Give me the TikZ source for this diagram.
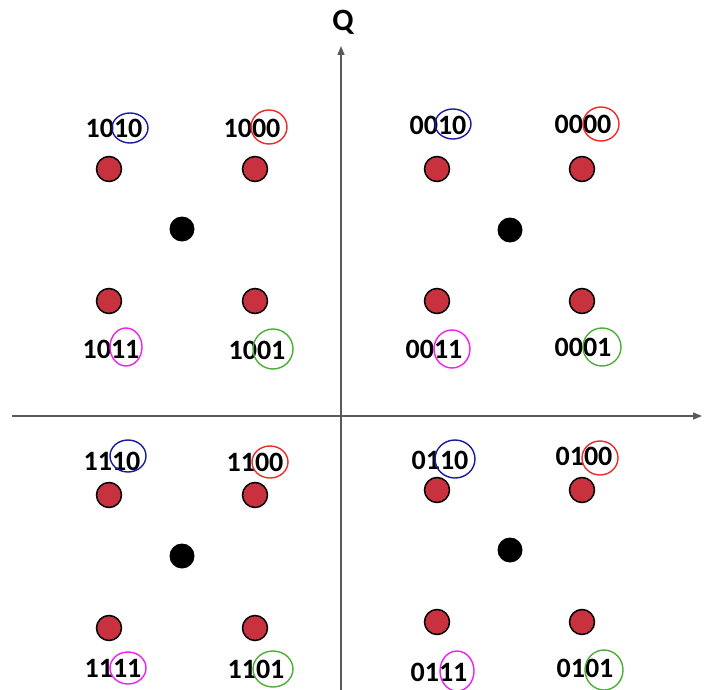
\documentclass[tikz,border=0pt]{standalone}
\usepackage{fontspec}
\setmainfont{Carlito}
\usetikzlibrary{arrows.meta}
\definecolor{dotred}{HTML}{C8313E}
\definecolor{axisgray}{HTML}{5A5A5A}
\definecolor{cblue}{HTML}{1A1AA0}
\definecolor{cred}{HTML}{EE2B2B}
\definecolor{cmag}{HTML}{F020F0}
\definecolor{cgreen}{HTML}{4CAF35}
\tikzset{
  axis/.style={draw=axisgray, line width=1.4pt, -{Triangle[length=9pt,width=7pt]}},
  rdot/.style={circle, draw=black, line width=1.5pt, fill=dotred, minimum size=25pt, inner sep=0pt},
  bdot/.style={circle, fill=black, minimum size=25pt, inner sep=0pt},
  lbl/.style={font=\bfseries\fontsize{28}{30}\selectfont, inner sep=0pt},
  ring/.style={line width=1.4pt},
}
\begin{document}
\begin{tikzpicture}[x=1pt,y=-1pt]
\useasboundingbox[fill=white] (0,0) rectangle (712,690);
% axes
\coordinate (xs) at (12,416);
\coordinate (xe) at (702,416);
\coordinate (ys) at (341,690);
\coordinate (ye) at (341,46);
\draw[axis] (xs) -- (xe);
\draw[axis] (ys) -- (ye);
\node[font=\bfseries\fontsize{31}{32}\selectfont, inner sep=0pt] (Q) at (343,22) {Q};
% red dots
\foreach \n/\x/\y in {a1/109/169, a2/255/169, a3/109/301, a4/255/301,
                      b1/437/169, b2/582/169, b3/437/301, b4/582/301,
                      c1/109/495, c2/255/495, c3/109/628, c4/255/628,
                      d1/437/490, d2/582/490, d3/437/622, d4/582/622}
  \node[rdot] (\n) at (\x,\y) {};
% black dots
\node[bdot] (ka) at (182,229) {};
\node[bdot] (kb) at (510,230) {};
\node[bdot] (kc) at (182,556) {};
\node[bdot] (kd) at (510,550) {};
% labels
\foreach \n/\x/\y/\t in {l1/114/128/1010, l2/252/128/1000, l3/438/125/0010, l4/583/124/0000,
                         l5/111/349/1011, l6/257/350/1001, l7/434/349/0011, l8/583/347/0001,
                         l9/112/461/1110, l10/255/462/1100, l11/440/460/0110, l12/584/456/0100,
                         l13/113/668/1111, l14/256/669/1101, l15/439/672/0111, l16/585/668/0101}
  \node[lbl] (\n) at (\x,\y) {\t};
% rings
\draw[ring, cblue] (130,128) ellipse [x radius=18, y radius=15];
\draw[ring, cred] (269,127) ellipse [x radius=18, y radius=17];
\draw[ring, cblue] (453,124) ellipse [x radius=18, y radius=15];
\draw[ring, cred] (601,124) ellipse [x radius=18, y radius=17];
\draw[ring, cmag] (126,347) ellipse [x radius=16, y radius=19];
\draw[ring, cgreen] (273,349) ellipse [x radius=20, y radius=20];
\draw[ring, cmag] (452,349) ellipse [x radius=18, y radius=19];
\draw[ring, cgreen] (602,347) ellipse [x radius=19, y radius=19];
\draw[ring, cblue] (128,456) ellipse [x radius=18, y radius=16];
\draw[ring, cred] (270,462) ellipse [x radius=18, y radius=16];
\draw[ring, cblue] (455,459) ellipse [x radius=20, y radius=19];
\draw[ring, cred] (600,458) ellipse [x radius=18, y radius=17];
\draw[ring, cmag] (128,668) ellipse [x radius=18, y radius=16];
\draw[ring, cgreen] (273,669) ellipse [x radius=20, y radius=18];
\draw[ring, cmag] (457,671) ellipse [x radius=17, y radius=20];
\draw[ring, cgreen] (604,670) ellipse [x radius=19, y radius=20];
\end{tikzpicture}
\end{document}
